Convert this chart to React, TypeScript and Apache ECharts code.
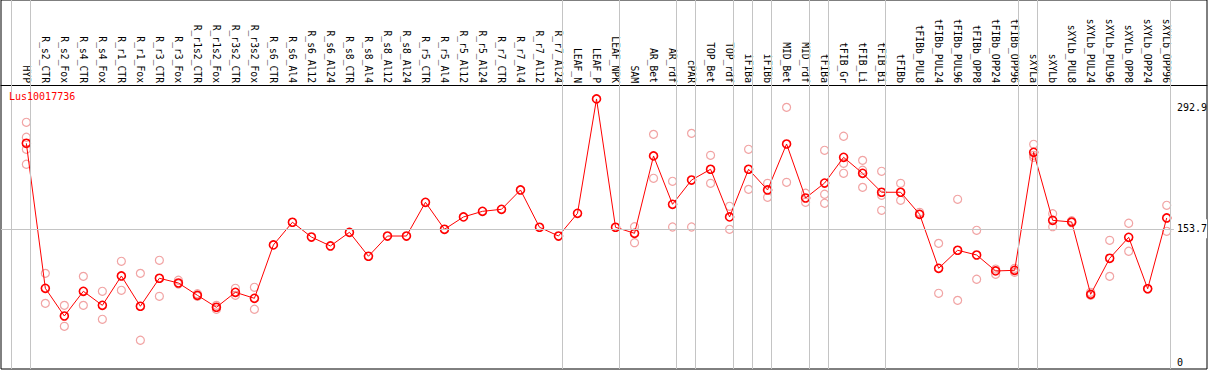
import React, { useEffect, useRef } from "react";
import * as echarts from "echarts";

const title = "Lus10017736";

const categories = [
  "HYP", "R_s2_CTR", "R_s2_Fox", "R_s4_CTR", "R_s4_Fox", "R_r1_CTR", "R_r1_Fox", "R_r3_CTR", "R_r3_Fox",
  "R_r1s2_CTR", "R_r1s2_Fox", "R_r3s2_CTR", "R_r3s2_Fox", "R_s6_CTR", "R_s6_Al4", "R_s6_Al12", "R_s6_Al24",
  "R_s8_CTR", "R_s8_Al4", "R_s8_Al12", "R_s8_Al24", "R_r5_CTR", "R_r5_Al4", "R_r5_Al12", "R_r5_Al24",
  "R_r7_CTR", "R_r7_Al4", "R_r7_Al12", "R_r7_Al24", "LEAF_N", "LEAF_P", "LEAF_NPK", "SAM", "AR_Bet", "AR_rdf",
  "cPAR", "TOP_Bet", "TOP_rdf", "iFIBa", "iFIBb", "MID_Bet", "MID_rdf", "tFIBa", "tFIB_Gr", "tFIB_Li", "tFIB_Bi",
  "tFIBb", "tFIBb_PUL8", "tFIBb_PUL24", "tFIBb_PUL96", "tFIBb_OPP8", "tFIBb_OPP24", "tFIBb_OPP96",
  "sXYLa", "sXYLb", "sXYLb_PUL8", "sXYLb_PUL24", "sXYLb_PUL96", "sXYLb_OPP8", "sXYLb_OPP24", "sXYLb_OPP96",
];

const means = [
  247.5, 88.5, 58.1, 85.2, 69.8, 102.0, 68.8, 99.5, 94.3,
  80.8, 67.7, 84.1, 77.5, 136.0, 160.9, 144.7, 134.9,
  149.9, 123.6, 145.8, 145.8, 182.8, 153.2, 166.7, 172.9,
  175.1, 196.3, 155.4, 145.8, 170.7, 296.1, 155.4, 148.8, 233.6, 180.6,
  207.2, 219.0, 166.7, 219.0, 196.3, 246.7, 187.5, 203.9, 232.1, 214.6, 193.8,
  193.8, 169.6, 110.4, 130.2, 125.0, 107.5, 108.2,
  237.6, 163.0, 161.2, 81.9, 121.4, 144.4, 88.0, 165.6,
];

const replicates: number[][] = [
  [270.5, 254.1, 240.9, 224.5], [104.9, 72.0], [69.8, 46.8], [101.6, 69.8], [85.2, 54.5],
  [118.1, 86.3], [104.9, 31.5], [119.2, 79.7], [97.3, 93.2],
  [82.5, 79.7], [69.8, 65.5], [88.5, 80.8], [89.6, 65.5], [], [], [], [],
  [], [], [], [], [], [], [], [],
  [], [], [], [], [], [], [], [156.0, 138.5], [257.3, 209.1], [205.8, 155.7],
  [258.4, 155.7], [234.3, 203.6], [178.4, 153.2], [240.9, 197.0], [203.6, 188.3], [286.9, 204.7], [192.7, 182.8],
  [239.8, 191.6, 181.7], [255.2, 225.5, 214.6], [228.8, 217.9, 199.2], [216.8, 190.5, 174.0],
  [203.6, 185.0], [171.8, 169.6], [137.8, 83.0], [186.1, 75.3], [152.1, 98.4], [109.6, 103.8], [110.4, 106.0],
  [246.4, 234.3, 232.1], [170.3, 156.0], [162.6, 160.4], [84.1, 80.8], [141.1, 101.6], [159.8, 129.1], [88.0], [179.5, 151.0],
];

// index of the last category of each group (separators drawn just after it)
const groupEnds = [-1, 0, 28, 31, 34, 35, 37, 38, 39, 41, 42, 45, 52, 53, 60];

const yTickLabels = [0, 153.7, 292.9];

const FONT = "DejaVu Sans Mono";

export default function App() {
  const ref = useRef<HTMLDivElement>(null);

  useEffect(() => {
    if (!ref.current) return;
    const chart = echarts.init(ref.current, undefined, { renderer: "svg" });

    const lineData = means.map((v, i) => [i, v]);
    const repData: number[][] = [];
    replicates.forEach((r, i) => r.forEach((v) => repData.push([i, v])));

    const sepLines = groupEnds.map((g) => ({ xAxis: g + 0.195 }));

    const labelBase = { show: true, fontFamily: FONT, fontSize: 10, color: "#000" };

    const option: any = {
      animation: false,
      title: {
        text: title,
        left: 9,
        top: 91,
        padding: 0,
        textStyle: { color: "#ff0000", fontSize: 10, fontFamily: FONT, fontWeight: "normal" },
      },
      grid: {
        left: 1,
        right: 2,
        top: 0,
        bottom: 1,
        show: true,
        borderColor: "#000",
        borderWidth: 1,
        backgroundColor: "#fff",
      },
      xAxis: {
        type: "value",
        min: -1.333,
        max: 62.12,
        position: "top",
        offset: -85,
        axisLine: { show: true, onZero: false, lineStyle: { color: "#000", width: 1 } },
        axisTick: { show: false },
        splitLine: { show: false },
        axisLabel: {
          show: true,
          customValues: categories.map((_, i) => i),
          formatter: (v: number) => categories[Math.round(v)] ?? "",
          rotate: 90,
          margin: 2,
          fontSize: 9.7,
          fontFamily: FONT,
          color: "#000",
        },
      },
      yAxis: {
        type: "value",
        min: 0,
        max: 404.6,
        position: "right",
        axisLine: { show: false },
        axisTick: { show: false },
        axisLabel: { show: false },
        splitLine: { show: false },
      },
      series: [
        {
          type: "scatter",
          data: repData,
          symbol: "circle",
          symbolSize: 8,
          itemStyle: { color: "rgba(0,0,0,0)", borderColor: "#ee8c8c", borderWidth: 1.2 },
          z: 2,
          silent: true,
          markLine: {
            silent: true,
            symbol: ["none", "none"],
            animation: false,
            label: { show: false },
            lineStyle: { color: "#c4c4c4", width: 1, type: "solid" },
            data: sepLines,
          },
        },
        {
          type: "line",
          data: lineData,
          symbol: "circle",
          symbolSize: 8,
          showAllSymbol: true,
          lineStyle: { color: "#ff0000", width: 1 },
          itemStyle: { color: "rgba(0,0,0,0)", borderColor: "#ff0000", borderWidth: 1.6 },
          z: 3,
          silent: true,
          markLine: {
            silent: true,
            symbol: ["none", "none"],
            animation: false,
            data: [
              {
                yAxis: yTickLabels[1],
                lineStyle: { color: "#c4c4c4", width: 1, type: "solid" },
                label: {
                  ...labelBase,
                  position: "insideEnd",
                  distance: [0, 0],
                  formatter: String(yTickLabels[1]),
                  backgroundColor: "#fff",
                  padding: [9, 0, 0, 3],
                },
              },
              {
                yAxis: yTickLabels[2],
                lineStyle: { color: "rgba(0,0,0,0)", width: 0 },
                label: {
                  ...labelBase,
                  position: "insideEndBottom",
                  distance: [0, 1],
                  formatter: String(yTickLabels[2]),
                },
              },
              {
                yAxis: yTickLabels[0],
                lineStyle: { color: "rgba(0,0,0,0)", width: 0 },
                label: {
                  ...labelBase,
                  position: "insideEndTop",
                  distance: [0, 2],
                  formatter: String(yTickLabels[0]),
                  padding: [0, 24, 0, 0],
                },
              },
            ],
          },
        },
      ],
    };

    chart.setOption(option);
    return () => chart.dispose();
  }, []);

  return (
    <div
      ref={ref}
      style={{ position: "fixed", left: 0, top: 0, width: 1209, height: 370, background: "#fff" }}
    />
  );
}
